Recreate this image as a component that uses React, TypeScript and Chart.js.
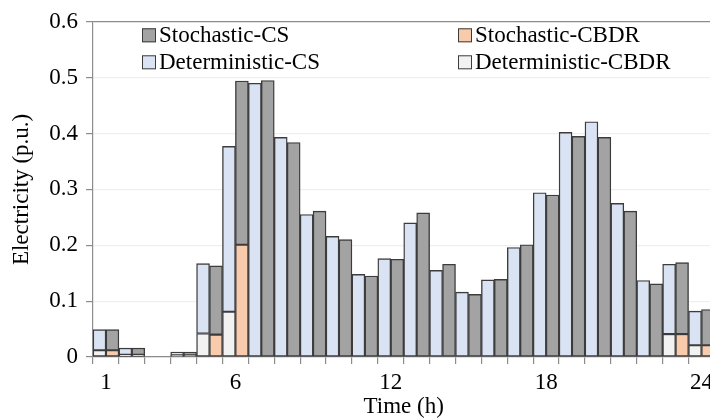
import React, { useEffect, useRef } from "react";
import { Chart, registerables } from "chart.js";

Chart.register(...registerables);

const hourLabels = ["1","2","3","4","5","6","7","8","9","10","11","12","13","14","15","16","17","18","19","20","21","22","23","24"];
const shownHours = ["1", "6", "12", "18", "24"];

const detCBDR = [0.012, 0.004, 0, 0.003, 0.042, 0.081, 0, 0, 0, 0, 0, 0, 0, 0, 0, 0, 0, 0, 0, 0, 0, 0, 0.041, 0.021];
const detCS = [0.037, 0.012, 0, 0.006, 0.125, 0.296, 0.49, 0.393, 0.255, 0.216, 0.148, 0.176, 0.24, 0.155, 0.116, 0.138, 0.196, 0.294, 0.402, 0.421, 0.275, 0.137, 0.125, 0.061];
const stoCBDR = [0.012, 0.004, 0, 0.003, 0.04, 0.201, 0, 0, 0, 0, 0, 0, 0, 0, 0, 0, 0, 0, 0, 0, 0, 0, 0.041, 0.021];
const stoCS = [0.037, 0.012, 0, 0.006, 0.123, 0.293, 0.495, 0.384, 0.261, 0.21, 0.145, 0.175, 0.258, 0.166, 0.112, 0.139, 0.201, 0.29, 0.395, 0.393, 0.261, 0.131, 0.128, 0.064];

const yTicks = [0, 0.1, 0.2, 0.3, 0.4, 0.5, 0.6];

const FONT = '"Liberation Serif", "Times New Roman", serif';
const FS = 23;
const COL_STO_CS = "#a3a3a3";
const COL_DET_CS = "#dae3f3";
const COL_STO_CBDR = "#f8cbad";
const COL_DET_CBDR = "#f2f2f2";
const EDGE = "#3c3c3c";

const legendItems = [
  { text: "Stochastic-CS", color: COL_STO_CS, col: 0, row: 0 },
  { text: "Stochastic-CBDR", color: COL_STO_CBDR, col: 1, row: 0 },
  { text: "Deterministic-CS", color: COL_DET_CS, col: 0, row: 1 },
  { text: "Deterministic-CBDR", color: COL_DET_CBDR, col: 1, row: 1 },
];

const insideLegend = {
  id: "insideLegend",
  afterDraw(chart: any) {
    const { ctx, chartArea } = chart;
    ctx.save();
    ctx.font = `${FS}px ${FONT}`;
    ctx.textBaseline = "middle";
    ctx.textAlign = "left";
    const colX = [49, 365];
    const rowY = [13, 40];
    legendItems.forEach((it) => {
      const x = chartArea.left + colX[it.col];
      const y = chartArea.top + rowY[it.row];
      ctx.fillStyle = it.color;
      ctx.fillRect(x, y - 6.5, 14, 14);
      ctx.strokeStyle = EDGE;
      ctx.lineWidth = 1;
      ctx.strokeRect(x + 0.5, y - 6, 13, 13);
      ctx.fillStyle = "#000";
      ctx.fillText(it.text, x + 17, y + 1);
    });
    ctx.restore();
  },
};

export default function App() {
  const ref = useRef<HTMLCanvasElement | null>(null);

  useEffect(() => {
    if (!ref.current) return;
    const mk = (label: string, data: number[], color: string, stack: string) => ({
      label,
      data,
      backgroundColor: color,
      borderColor: EDGE,
      borderWidth: 1.4,
      borderSkipped: false as const,
      stack,
      categoryPercentage: 1,
      barPercentage: 1,
    });
    const chart = new Chart(ref.current, {
      type: "bar",
      data: {
        labels: hourLabels,
        datasets: [
          mk("Deterministic-CBDR", detCBDR, COL_DET_CBDR, "det"),
          mk("Deterministic-CS", detCS, COL_DET_CS, "det"),
          mk("Stochastic-CBDR", stoCBDR, COL_STO_CBDR, "sto"),
          mk("Stochastic-CS", stoCS, COL_STO_CS, "sto"),
        ],
      },
      options: {
        responsive: false,
        animation: false,
        devicePixelRatio: 1,
        layout: { padding: { top: 17, right: 0, bottom: 0, left: 0 } },
        plugins: { legend: { display: false }, tooltip: { enabled: false } },
        scales: {
          x: {
            stacked: true,
            afterFit: (s: any) => { s.height = 63; },
            border: { color: "#8c8c8c", width: 1.2 },
            grid: { offset: true, drawOnChartArea: false, drawTicks: true, tickLength: 7, tickColor: "#8c8c8c", lineWidth: 1.2 },
            ticks: {
              autoSkip: false,
              maxRotation: 0,
              padding: 5,
              color: "#000",
              font: { family: FONT, size: FS },
              callback: (_v: any, i: number) => (shownHours.includes(hourLabels[i]) ? hourLabels[i] : ""),
            },
            title: { display: true, text: "Time (h)", color: "#000", font: { family: FONT, size: FS, lineHeight: 1.1 }, padding: { top: 0, bottom: 0 } },
          },
          y: {
            stacked: true,
            min: 0,
            max: 0.6,
            afterFit: (s: any) => { s.width = 93; },
            afterBuildTicks: (s: any) => { s.ticks = yTicks.map((v) => ({ value: v })); },
            border: { color: "#8c8c8c", width: 1.2 },
            grid: {
              color: (c: any) => (c.tick && c.tick.value === 0.6 ? "#8c8c8c" : "#efefef"),
              tickColor: "#8c8c8c",
              tickLength: 7,
              lineWidth: 1.2,
            },
            ticks: {
              padding: 8,
              color: "#000",
              font: { family: FONT, size: FS },
              callback: (v: any) => String(Math.round(Number(v) * 10) / 10),
            },
            title: { display: true, text: "Electricity (p.u.)", color: "#000", font: { family: FONT, size: FS, lineHeight: 1.2 }, padding: { top: 8, bottom: 0 } },
          },
        },
      },
      plugins: [insideLegend],
    });
    return () => chart.destroy();
  }, []);

  return (
    <div style={{ position: "fixed", left: 0, top: 0, width: 710, height: 420, overflow: "hidden", background: "#fff" }}>
      <canvas ref={ref} width={718} height={420} style={{ width: 718, height: 420, display: "block" }} />
    </div>
  );
}
